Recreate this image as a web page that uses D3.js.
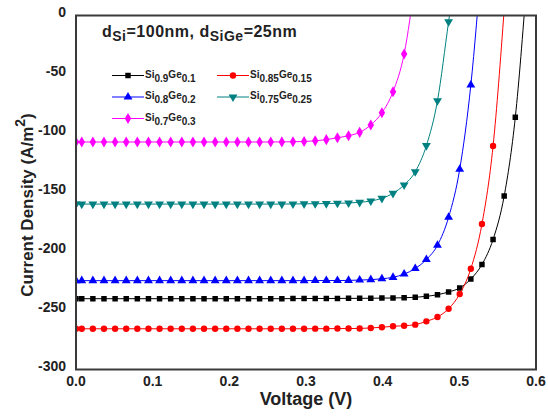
<!DOCTYPE html>
<html>
<head>
<meta charset="utf-8">
<style>
body { margin: 0; background: #fff; }
svg { font-family: "Liberation Sans", Arial, sans-serif; font-weight: bold; }
</style>
<script src="https://d3js.org/d3.v7.min.js"></script>
</head>
<body>
<svg id="chart" width="548" height="416"></svg>
<script>

// Voltage (V) of every simulated point
var voltage = [0, 0.0075, 0.022, 0.0365, 0.051, 0.0655, 0.08, 0.0945, 0.109, 0.1235,
  0.138, 0.1525, 0.167, 0.1815, 0.196, 0.2105, 0.225, 0.2395, 0.254, 0.2685,
  0.283, 0.2975, 0.312, 0.3265, 0.341, 0.3555, 0.37, 0.3845, 0.399, 0.4135,
  0.428, 0.4425, 0.457, 0.4715, 0.486, 0.5005, 0.515, 0.5295, 0.544, 0.5585,
  0.573, 0.5875];

// Current density (A/m2) per composition, same index as voltage
var jGe10 = [-240, -240, -240, -240, -240, -240, -240, -240, -240, -240,
  -240, -240, -240, -240, -240, -240, -240, -240, -240, -240,
  -239.9, -239.9, -239.8, -239.8, -239.8, -239.7, -239.7, -239.6, -239.5, -239.4,
  -239.2, -238.8, -238, -236.6, -234.3, -230.9, -223.3, -211, -189.8, -153,
  -86.3, 25];
var jGe15 = [-265.5, -265.5, -265.5, -265.5, -265.5, -265.5, -265.5, -265.5, -265.5, -265.5,
  -265.5, -265.5, -265.5, -265.5, -265.5, -265.5, -265.5, -265.5, -265.5, -265.5,
  -265.5, -265.5, -265.4, -265.4, -265.3, -265.3, -265.2, -264.8, -264.2, -263.4,
  -262.9, -262, -259.2, -255.5, -248.5, -236, -214.6, -176.7, -110.6, 5];
var jGe20 = [-224.7, -224.7, -224.7, -224.7, -224.7, -224.7, -224.7, -224.7, -224.7, -224.7,
  -224.7, -224.7, -224.7, -224.7, -224.7, -224.7, -224.7, -224.7, -224.7, -224.7,
  -224.7, -224.7, -224.6, -224.6, -224.6, -224.5, -224.2, -223.9, -223.1, -221.9,
  -219.1, -214.4, -206.8, -194.7, -171, -130.3, -58.9, 50];
var jGe25 = [-159.8, -159.8, -159.8, -159.8, -159.8, -159.8, -159.8, -159.8, -159.8, -159.8,
  -159.8, -159.8, -159.8, -159.8, -159.8, -159.8, -159.8, -159.8, -159.8, -159.8,
  -159.7, -159.6, -159.5, -159.4, -159.1, -158.9, -158.3, -157.2, -154.9, -150.7,
  -143.6, -132.4, -110.3, -72.2, -5.3, 60];
var jGe30 = [-107.2, -107.2, -107.2, -107.2, -107.2, -107.2, -107.2, -107.2, -107.2, -107.2,
  -107.2, -107.2, -107.2, -107.2, -107.2, -107.2, -107.2, -107.2, -107.2, -107.1,
  -107, -106.8, -106.2, -105.2, -103.6, -101.9, -99, -92.8, -82.4, -64.6,
  -32.6, 30];

var xTicks = [0, 0.1, 0.2, 0.3, 0.4, 0.5, 0.6];
var yTicks = [0, -50, -100, -150, -200, -250, -300];

// legend labels: [Si, x, Ge, y]
var series = [
  { label: ["Si", "0.9", "Ge", "0.1"], values: jGe10, color: "#000000", symbol: d3.symbolSquare, size: 30 },
  { label: ["Si", "0.85", "Ge", "0.15"], values: jGe15, color: "#ff0000", symbol: d3.symbolCircle, size: 32 },
  { label: ["Si", "0.8", "Ge", "0.2"], values: jGe20, color: "#0000ff", symbol: d3.symbolTriangle, size: 34 },
  { label: ["Si", "0.75", "Ge", "0.25"], values: jGe25, color: "#008080", symbol: d3.symbolTriangle, size: 34, flip: true },
  { label: ["Si", "0.7", "Ge", "0.3"], values: jGe30, color: "#ff00ff", symbol: d3.symbolDiamond, size: 36 }
];

var svg = d3.select("#chart");
// note: "top" is taken by window.top, so use other names
var plotLeft = 76, plotRight = 536, plotTop = 15.5, plotBottom = 369.5;

var x = d3.scaleLinear().domain([0, 0.6]).range([plotLeft, plotRight]);
var y = d3.scaleLinear().domain([-300, 0]).range([plotBottom, plotTop]);

svg.append("clipPath").attr("id", "plotClip")
  .append("rect")
  .attr("x", plotLeft).attr("y", plotTop)
  .attr("width", plotRight - plotLeft).attr("height", plotBottom - plotTop);

var plot = svg.append("g").attr("clip-path", "url(#plotClip)");

var line = d3.line()
  .x(function(d) { return x(d[0]); })
  .y(function(d) { return y(d[1]); })
  .curve(d3.curveMonotoneX);

series.forEach(function(s) {
  var pts = s.values.map(function(v, i) { return [voltage[i], v]; });
  plot.append("path")
    .attr("d", line(pts))
    .attr("fill", "none")
    .attr("stroke", s.color)
    .attr("stroke-width", 1);
  var sym = d3.symbol().type(s.symbol).size(s.size);
  plot.selectAll(null)
    .data(pts)
    .enter().append("path")
    .attr("d", sym)
    .attr("fill", s.color)
    .attr("transform", function(d) {
      return "translate(" + x(d[0]) + "," + y(d[1]) + ")" + (s.flip ? " rotate(180)" : "");
    });
});

// frame
svg.append("rect")
  .attr("x", plotLeft).attr("y", plotTop)
  .attr("width", plotRight - plotLeft).attr("height", plotBottom - plotTop)
  .attr("fill", "none")
  .attr("stroke", "#3a3a3a")
  .attr("stroke-width", 2);

// tick labels (no tick marks in the original)
svg.append("g").selectAll("text")
  .data(xTicks)
  .enter().append("text")
  .attr("x", function(d) { return x(d); })
  .attr("y", plotBottom + 16)
  .attr("text-anchor", "middle")
  .attr("font-size", 14)
  .attr("fill", "#222")
  .text(function(d) { return d3.format(".1f")(d); });

svg.append("g").selectAll("text")
  .data(yTicks)
  .enter().append("text")
  .attr("x", plotLeft - 10)
  .attr("y", function(d) { return y(d) + 1.5; })
  .attr("text-anchor", "end")
  .attr("font-size", 14)
  .attr("fill", "#222")
  .text(function(d) { return d; });

// axis titles
svg.append("text")
  .attr("x", 306)
  .attr("y", 405)
  .attr("text-anchor", "middle")
  .attr("font-size", 18)
  .attr("fill", "#222")
  .text("Voltage (V)");

var yt = svg.append("text")
  .attr("transform", "translate(33,205) rotate(-90)")
  .attr("text-anchor", "middle")
  .attr("font-size", 17)
  .attr("fill", "#222");
yt.append("tspan").text("Current Density (A/m");
yt.append("tspan").attr("font-size", 14).attr("dy", -8).text("2");
yt.append("tspan").attr("dy", 8).text(")");

// annotation
var ann = svg.append("text")
  .attr("x", 102).attr("y", 37)
  .attr("font-size", 16)
  .attr("letter-spacing", 0.5)
  .attr("fill", "#222");
ann.append("tspan").text("d");
ann.append("tspan").attr("font-size", 14).attr("dy", 4).text("Si");
ann.append("tspan").attr("dy", -4).text("=100nm, d");
ann.append("tspan").attr("font-size", 14).attr("dy", 4).text("SiGe");
ann.append("tspan").attr("dy", -4).text("=25nm");

// legend
var legendPos = [[112, 75.5], [217, 75.5], [112, 97], [217, 97], [112, 118.5]];
series.forEach(function(s, i) {
  var g = svg.append("g").attr("transform", "translate(" + legendPos[i][0] + "," + legendPos[i][1] + ")");
  g.append("line").attr("x1", 0).attr("x2", 32).attr("y1", 0).attr("y2", 0)
    .attr("stroke", s.color).attr("stroke-width", 1);
  g.append("path")
    .attr("d", d3.symbol().type(s.symbol).size(s.size))
    .attr("fill", s.color)
    .attr("transform", "translate(16,0)" + (s.flip ? " rotate(180)" : ""));
  var t = g.append("text").attr("x", 33).attr("y", 2).attr("font-size", 10).attr("fill", "#222");
  t.append("tspan").text(s.label[0]);
  t.append("tspan").attr("dy", 4).text(s.label[1]);
  t.append("tspan").attr("dy", -4).text(s.label[2]);
  t.append("tspan").attr("dy", 4).text(s.label[3]);
});

</script>
</body>
</html>
